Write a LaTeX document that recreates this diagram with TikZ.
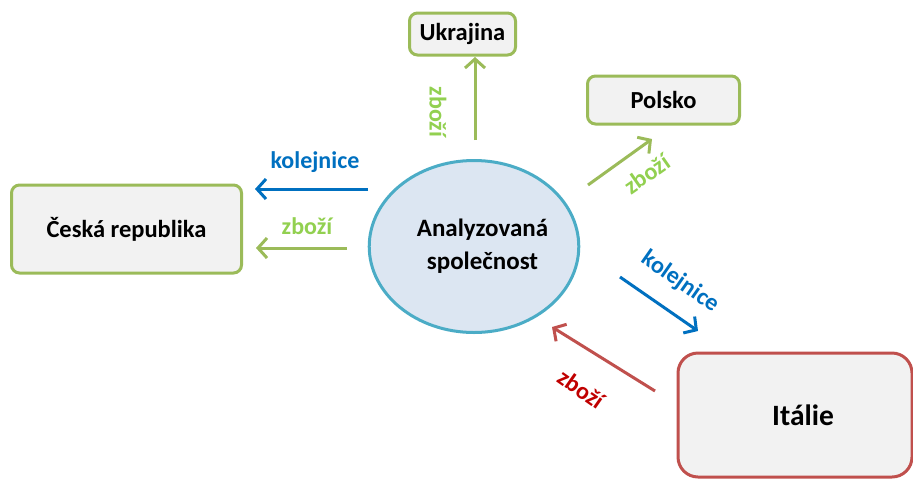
\documentclass[tikz,border=0pt]{standalone}
\usepackage{fontspec}
\setmainfont{Carlito}
\usetikzlibrary{arrows.meta,shapes.geometric}
\definecolor{gbord}{HTML}{9BBB59}
\definecolor{glab}{HTML}{92D050}
\definecolor{blu}{HTML}{0070C0}
\definecolor{rbord}{HTML}{C0504D}
\definecolor{rlab}{HTML}{C00000}
\definecolor{boxfill}{HTML}{F2F2F2}
\definecolor{ellfill}{HTML}{DCE6F2}
\definecolor{ellbord}{HTML}{4BACC6}
\tikzset{
  gbox/.style={draw=gbord, line width=3pt, fill=boxfill, rounded corners=8pt, font=\fontsize{24.5}{28}\selectfont\bfseries, inner sep=0pt},
  rbox/.style={draw=rbord, line width=3pt, fill=boxfill, rounded corners=20pt, font=\fontsize{29.5}{34}\selectfont\bfseries, inner sep=0pt},
  flow/.style={line width=3pt, -{Straight Barb[length=9pt,width=20pt,line width=3pt]}},
  lab/.style={font=\fontsize{24}{28}\selectfont\bfseries, inner sep=0pt},
}
\begin{document}
\begin{tikzpicture}[x=1pt,y=-1pt]
\useasboundingbox (0,0) rectangle (913,480);
\begin{scope}
\clip (0,0) rectangle (913,480);
% nodes
\node[gbox, minimum width=106pt, minimum height=42pt] (ukr) at (462.5,34) {Ukrajina};
\node[gbox, minimum width=152pt, minimum height=48pt] (pol) at (663.5,100) {Polsko};
\node[gbox, minimum width=230pt, minimum height=88pt] (cz) at (126.5,229) {Česká republika};
\node[ellipse, draw=ellbord, fill=ellfill, line width=3pt, minimum width=207pt, minimum height=172pt, inner sep=0pt,
      font=\fontsize{25}{33}\selectfont\bfseries, align=center] (an) at (474,246.5) {\hspace*{17pt}Analyzovaná\\\hspace*{17pt}společnost};
\node[rbox, minimum width=234pt, minimum height=124pt] (it) at (795,415) {\hspace*{16pt}Itálie};
\end{scope}
% arrow end points
\coordinate (u1) at (475,140); \coordinate (u2) at (475,57);
\coordinate (p1) at (588,185); \coordinate (p2) at (652,139);
\coordinate (k1) at (368,189); \coordinate (k2) at (255,189);
\coordinate (z1) at (347,248); \coordinate (z2) at (256,248);
\coordinate (i1) at (620,277); \coordinate (i2) at (698,331);
\coordinate (r1) at (655,391); \coordinate (r2) at (552,327);
% arrows
\draw[flow, gbord] (u1) -- (u2);
\draw[flow, gbord] (p1) -- (p2);
\draw[flow, blu] (k1) -- (k2);
\draw[flow, gbord] (z1) -- (z2);
\draw[flow, blu] (i1) -- (i2);
\draw[flow, rbord] (r1) -- (r2);
% labels
\node[lab, glab, rotate=-90] (lu) at (438,112) {zboží};
\node[lab, glab, rotate=35] (lp) at (647,174) {zboží};
\node[lab, blu] (lk) at (315,162) {kolejnice};
\node[lab, glab] (lz) at (307,226) {zboží};
\node[lab, blu, rotate=-35] (li) at (680,282) {kolejnice};
\node[lab, rlab, rotate=-35] (lr) at (581,389) {zboží};
\end{tikzpicture}
\end{document}
